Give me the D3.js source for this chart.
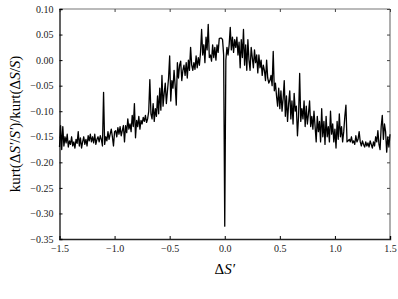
<!DOCTYPE html>
<html>
<head>
<meta charset="utf-8">
<script src="https://cdn.jsdelivr.net/npm/d3@7"></script>
<style>
  body { margin: 0; background: #fff; }
  text { font-family: "Liberation Serif", "DejaVu Serif", serif; }
</style>
</head>
<body>
<div id="chart"></div>
<script>
// x positions run from -1.5 to 1.5 in steps of 0.01
const xStart = -1.5;
const xStep = 0.01;

// kurtosis ratio
const kurtRatio = [
  -0.170, -0.128, -0.175, -0.130, -0.168, -0.150, -0.162, -0.145, -0.170, -0.158,
  -0.165, -0.150, -0.168, -0.160, -0.172, -0.155, -0.163, -0.140, -0.168, -0.152,
  -0.172, -0.160, -0.150, -0.165, -0.155, -0.168, -0.148, -0.158, -0.145, -0.160,
  -0.150, -0.162, -0.145, -0.165, -0.155, -0.150, -0.160, -0.148, -0.155, -0.168,
  -0.063, -0.165, -0.150, -0.158, -0.140, -0.155, -0.145, -0.135, -0.150, -0.168,
  -0.140, -0.138, -0.150, -0.132, -0.145, -0.130, -0.148, -0.138, -0.128, -0.160,
  -0.128, -0.142, -0.115, -0.135, -0.125, -0.140, -0.108, -0.130, -0.085, -0.152,
  -0.118, -0.130, -0.110, -0.135, -0.118, -0.125, -0.112, -0.120, -0.108, -0.122,
  -0.115, -0.100, -0.038, -0.105, -0.115, -0.085, -0.120, -0.095, -0.110, -0.070,
  -0.105, -0.055, -0.098, -0.030, -0.090, -0.065, -0.045, -0.085, -0.060, -0.035,
   0.008, -0.080, -0.040, -0.055, -0.020, -0.050, -0.088, -0.005, -0.035, -0.010,
  -0.002, -0.040, -0.020, -0.010, -0.030, -0.005, -0.035,  0.000, -0.020,  0.025,
  -0.010, -0.020, -0.005, -0.018,  0.008, -0.015,  0.005, -0.010,  0.015,  0.060,
   0.010,  0.030, -0.005,  0.045,  0.020,  0.070,  0.005,  0.010, -0.002,  0.030,
   0.005,  0.025,  0.000,  0.030,  0.015,  0.042,  0.043,  0.043,  0.040,  0.010,
  -0.325,
   0.000,  0.025,  0.010,  0.030,  0.064,  0.020,  0.045,  0.015,  0.040,  0.025,
   0.045,  0.010,  0.035, -0.015,  0.040,  0.005,  0.060, -0.010,  0.030, -0.020,
   0.040,  0.000, -0.020,  0.025,  0.005, -0.015,  0.020, -0.005,  0.010, -0.025,
   0.010, -0.015,  0.000, -0.030, -0.010, -0.020, -0.040,  0.000, -0.035, -0.045,
  -0.040, -0.030, -0.050,  0.017, -0.060, -0.045, -0.070, -0.090, -0.055, -0.095,
  -0.060, -0.100, -0.075, -0.040, -0.110, -0.070, -0.120, -0.085, -0.060, -0.115,
  -0.080, -0.125, -0.065, -0.100, -0.090, -0.148, -0.110, -0.026, -0.120, -0.095,
  -0.115, -0.080, -0.130, -0.090, -0.125, -0.105, -0.080, -0.130, -0.110, -0.135,
  -0.100, -0.130, -0.160, -0.110, -0.140, -0.120, -0.160, -0.095, -0.150, -0.120,
  -0.165, -0.110, -0.150, -0.130, -0.160, -0.100, -0.145, -0.125, -0.160, -0.135,
  -0.172, -0.120, -0.155, -0.105, -0.150, -0.130, -0.160, -0.140, -0.110, -0.088,
  -0.160, -0.158, -0.155, -0.160, -0.150, -0.162, -0.158, -0.165, -0.148, -0.160,
  -0.155, -0.140, -0.160, -0.168, -0.158, -0.165, -0.170, -0.160, -0.168, -0.162,
  -0.170, -0.158, -0.165, -0.172, -0.160, -0.168, -0.150, -0.160, -0.138, -0.165,
  -0.175, -0.130, -0.108, -0.155, -0.125, -0.140, -0.180, -0.150, -0.170, -0.145
];

const xTicks = [-1.5, -1.0, -0.5, 0.0, 0.5, 1.0, 1.5];
const yTicks = [0.10, 0.05, 0.00, -0.05, -0.10, -0.15, -0.20, -0.25, -0.30, -0.35];

const width = 398;
const height = 299;
const margin = {top: 9, right: 8, bottom: 60, left: 59.5};
const innerW = width - margin.left - margin.right;
const innerH = height - margin.top - margin.bottom;

const points = kurtRatio.map((v, i) => ({x: xStart + i * xStep, y: v}));

const svg = d3.select("#chart")
    .append("svg")
    .attr("width", width)
    .attr("height", height);

const g = svg.append("g")
    .attr("transform", `translate(${margin.left}, ${margin.top})`);

const x = d3.scaleLinear().domain([-1.5, 1.5]).range([0, innerW]);
const y = d3.scaleLinear().domain([-0.35, 0.10]).range([innerH, 0]);

// frame: top and right lighter, left and bottom dark
g.append("line").attr("x1", 0).attr("x2", innerW).attr("y1", 0).attr("y2", 0)
    .attr("stroke", "#777").attr("stroke-width", 1.2);
g.append("line").attr("x1", innerW).attr("x2", innerW).attr("y1", 0).attr("y2", innerH)
    .attr("stroke", "#777").attr("stroke-width", 1.2);

// inward ticks on top and right
g.append("g")
    .call(d3.axisTop(x).tickValues(xTicks).tickSize(-3).tickFormat(""))
    .call(a => a.select(".domain").remove())
    .selectAll("line").attr("stroke", "#444");
g.append("g")
    .attr("transform", `translate(${innerW}, 0)`)
    .call(d3.axisRight(y).tickValues(yTicks).tickSize(-3).tickFormat(""))
    .call(a => a.select(".domain").remove())
    .selectAll("line").attr("stroke", "#444");

const xAxis = g.append("g")
    .attr("transform", `translate(0, ${innerH})`)
    .call(d3.axisBottom(x).tickValues(xTicks).tickSize(-3).tickPadding(6).tickFormat(d3.format(".1f")));
xAxis.select(".domain").attr("stroke", "#222").attr("stroke-width", 1.4);
xAxis.selectAll("text").attr("font-size", 10).attr("fill", "#222")
    .style("font-family", "'Liberation Serif', serif");

const yAxis = g.append("g")
    .call(d3.axisLeft(y).tickValues(yTicks).tickSize(-3).tickPadding(6).tickFormat(d3.format(".2f")));
yAxis.select(".domain").attr("stroke", "#222").attr("stroke-width", 1.4);
yAxis.selectAll("text").attr("font-size", 10).attr("fill", "#222")
    .style("font-family", "'Liberation Serif', serif");

const line = d3.line()
    .x(d => x(d.x))
    .y(d => y(d.y));

g.append("path")
    .datum(points)
    .attr("fill", "none")
    .attr("stroke", "#000")
    .attr("stroke-width", 1.3)
    .attr("stroke-linejoin", "round")
    .attr("d", line);

// axis labels
const xl = svg.append("text")
    .attr("x", margin.left + x(0))
    .attr("y", 274)
    .attr("text-anchor", "middle")
    .attr("font-size", 15);
xl.append("tspan").text("Δ");
xl.append("tspan").attr("font-style", "italic").text("S′");

const yl = svg.append("text")
    .attr("transform", `translate(20, ${margin.top + innerH / 2}) rotate(-90)`)
    .attr("text-anchor", "middle")
    .attr("font-size", 15);
yl.append("tspan").text("kurt(Δ");
yl.append("tspan").attr("font-style", "italic").text("S′");
yl.append("tspan").text("/");
yl.append("tspan").attr("font-style", "italic").text("S′");
yl.append("tspan").text(")/kurt(Δ");
yl.append("tspan").attr("font-style", "italic").text("S");
yl.append("tspan").text("/");
yl.append("tspan").attr("font-style", "italic").text("S");
yl.append("tspan").text(")");
</script>
</body>
</html>
